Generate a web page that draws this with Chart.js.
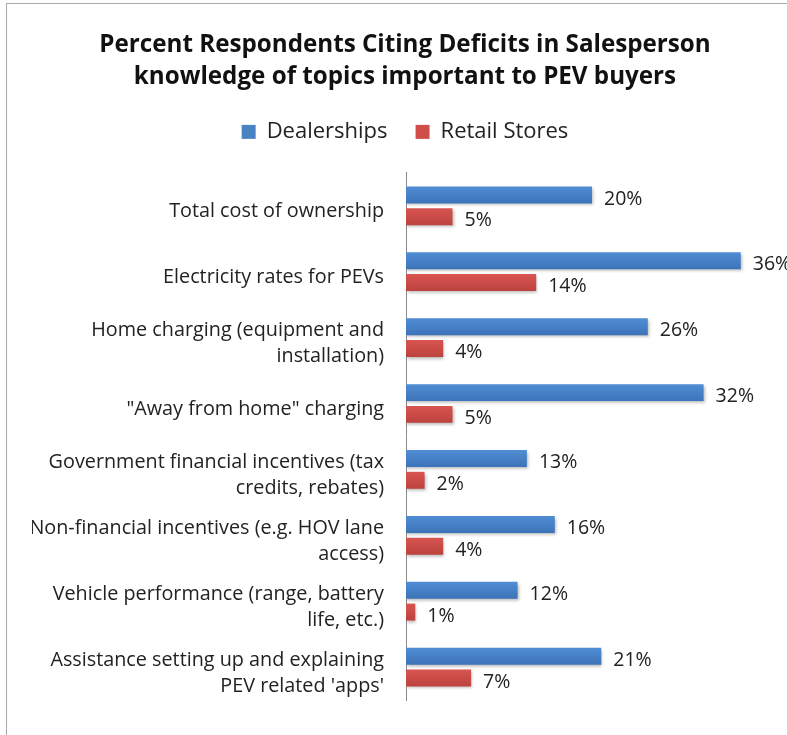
<!DOCTYPE html>
<html>
<head>
<meta charset="utf-8">
<script src="https://cdn.jsdelivr.net/npm/chart.js@4.4.1/dist/chart.umd.min.js"></script>
<style>
  html, body { margin: 0; padding: 0; background: #fff; overflow: hidden; }
  #wrap { position: relative; width: 787px; height: 735px; }
  #frame { position: absolute; left: 6px; top: 3px; width: 800px; height: 760px; border: 1px solid #a8a8a8; }
  canvas { position: absolute; left: 0; top: 0; }
</style>
</head>
<body>
<div id="wrap">
  <div id="frame"></div>
  <canvas id="myChart" width="787" height="735"></canvas>
</div>
<script>
const topics = [
  'Total cost of ownership',
  'Electricity rates for PEVs',
  ['Home charging (equipment and', 'installation)'],
  '"Away from home" charging',
  ['Government financial incentives (tax', 'credits, rebates)'],
  ['Non-financial incentives (e.g. HOV lane', 'access)'],
  ['Vehicle performance (range, battery', 'life, etc.)'],
  ['Assistance setting up and explaining', "PEV related 'apps'"]
]
const dealerships = [20, 36, 26, 32, 13, 16, 12, 21]
const retailStores = [5, 14, 4, 5, 2, 4, 1, 7]

const FONT = '"Open Sans", "Noto Sans", sans-serif'
const CAT_PCT = 0.66

// vertical gradient per bar (lighter on top, like the office chart)
function barFill(light, dark) {
  return (c) => {
    const y = c.chart.scales.y
    if (c.type !== 'data' || !y) return dark
    const slot = (y.bottom - y.top) / topics.length * CAT_PCT / 2
    const mid = y.getPixelForValue(c.dataIndex) + (c.datasetIndex === 0 ? -slot / 2 : slot / 2)
    const g = c.chart.ctx.createLinearGradient(0, mid - slot / 2, 0, mid + slot / 2)
    g.addColorStop(0, light)
    g.addColorStop(1, dark)
    return g
  }
}

// soft shadow under bars + value labels
const valueLabels = {
  id: 'valueLabels',
  beforeDatasetsDraw(chart) {
    const ctx = chart.ctx
    ctx.save()
    ctx.shadowColor = 'rgba(0,0,0,0.28)'
    ctx.shadowBlur = 3
    ctx.shadowOffsetX = 1
    ctx.shadowOffsetY = 2
  },
  afterDatasetsDraw(chart) {
    const ctx = chart.ctx
    ctx.restore()
    ctx.save()
    ctx.font = '19.5px ' + FONT
    ctx.fillStyle = '#222'
    ctx.textAlign = 'left'
    ctx.textBaseline = 'middle'
    chart.data.datasets.forEach((ds, i) => {
      chart.getDatasetMeta(i).data.forEach((bar, j) => {
        ctx.fillText(ds.data[j] + '%', bar.x + 12, bar.y + 4)
      })
    })
    ctx.restore()
  }
}

const ctx = document.getElementById('myChart')

var myChart = new Chart(ctx, {
  type: 'bar',
  data: {
    labels: topics,
    datasets: [
      {
        label: 'Dealerships',
        data: dealerships,
        backgroundColor: barFill('#5391d8', '#3a6fb4'),
        borderWidth: 0,
        categoryPercentage: CAT_PCT,
        barPercentage: 0.78
      },
      {
        label: 'Retail Stores',
        data: retailStores,
        backgroundColor: barFill('#dc5753', '#b8403c'),
        borderWidth: 0,
        categoryPercentage: CAT_PCT,
        barPercentage: 0.78
      }
    ]
  },
  options: {
    indexAxis: 'y',
    responsive: false,
    animation: false,
    layout: { padding: { left: 32, right: 9, top: 0, bottom: 17 } },
    scales: {
      x: {
        min: 0,
        max: 40,
        display: false
      },
      y: {
        grid: { display: false, drawTicks: false },
        border: { display: true, color: '#8a8a8a', width: 1 },
        ticks: {
          padding: 22,
          labelOffset: 6,
          color: '#222',
          font: { family: FONT, size: 19.8, lineHeight: 1.31 }
        },
        afterFit(scale) { scale.width = 374 }
      }
    },
    plugins: {
      title: {
        display: true,
        text: ['Percent Respondents Citing Deficits in Salesperson', 'knowledge of topics important to PEV buyers'],
        color: '#111',
        font: { family: FONT, size: 24.2, weight: 'bold', lineHeight: 1.32 },
        padding: { top: 29, bottom: 0 }
      },
      legend: {
        position: 'top',
        labels: {
          color: '#222',
          font: { family: FONT, size: 22 },
          boxWidth: 14,
          boxHeight: 14,
          padding: 28,
          generateLabels(chart) {
            const solid = ['#4a83c4', '#d04e4a']
            return chart.data.datasets.map((ds, i) => ({
              text: ds.label,
              fillStyle: solid[i],
              strokeStyle: solid[i],
              lineWidth: 0,
              fontColor: '#222',
              datasetIndex: i
            }))
          }
        }
      },
      // empty spacer between legend and plot
      subtitle: {
        display: true,
        text: '',
        weight: 500,
        font: { size: 10, lineHeight: 1 },
        padding: { top: 5, bottom: 5 }
      },
      tooltip: { enabled: false }
    }
  },
  plugins: [valueLabels]
})
</script>
</body>
</html>
